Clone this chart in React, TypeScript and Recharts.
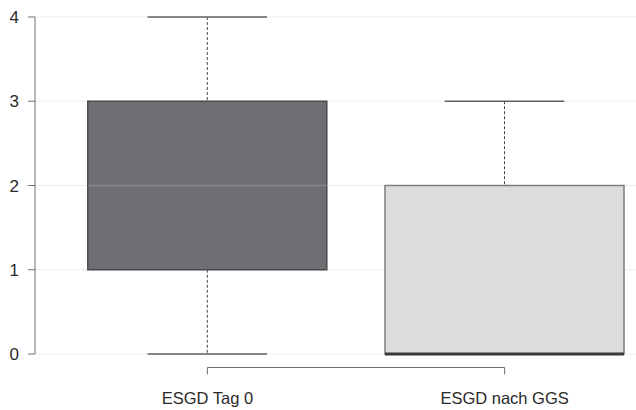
import { ComposedChart, Bar, XAxis, YAxis, CartesianGrid, ReferenceLine } from 'recharts';

// group labels and box statistics (ESGD score)
const CATEGORIES = ['ESGD Tag 0', 'ESGD nach GGS'];
const POSITIONS = [1, 2];
const MIN = [0, 0];
const Q1 = [1, 0];
const MEDIAN = [2, 0];
const Q3 = [3, 2];
const MAX = [4, 3];

const Y_TICKS = [0, 1, 2, 3, 4];
// R-style 4% padding around the data ranges
const X_DOMAIN: [number, number] = [0.42, 2.58];
const Y_DOMAIN: [number, number] = [-0.16, 4.16];

const BOX_FILL = ['#6e6f72', '#dcdcdd'];
const BOX_STROKE = ['#4a4a4c', '#7c7c7e'];
const MEDIAN_STROKE = ['#88888a', '#3a3a3c'];
const MEDIAN_WIDTH = [1.5, 3];
const AXIS_COLOR = '#707070';
const FONT = '"Liberation Sans", Arial, sans-serif';

const data = POSITIONS.map((pos, i) => ({
  pos,
  name: CATEGORIES[i],
  min: MIN[i],
  q1: Q1[i],
  median: MEDIAN[i],
  q3: Q3[i],
  max: MAX[i],
  idx: i,
}));

const BoxShape = (props: any) => {
  const { x, y, width, height, payload } = props;
  const top = Math.min(y, y + height);
  const bottom = Math.max(y, y + height);
  const { min, max, q1, q3, median, idx } = payload;
  // linear map between the bar's own ends (max at top, min at bottom)
  const py = (v: number) => top + ((max - v) / (max - min)) * (bottom - top);
  const cx = x + width / 2;
  const capHalf = width / 4;
  return (
    <g>
      <line x1={cx} x2={cx} y1={py(max)} y2={py(q3)} stroke="#444" strokeDasharray="3 2" />
      <line x1={cx} x2={cx} y1={py(q1)} y2={py(min)} stroke="#444" strokeDasharray="3 2" />
      <line x1={cx - capHalf} x2={cx + capHalf} y1={py(max)} y2={py(max)} stroke="#606060" strokeWidth={1.5} />
      <line x1={cx - capHalf} x2={cx + capHalf} y1={py(min)} y2={py(min)} stroke="#606060" strokeWidth={1.5} />
      <rect
        x={x}
        y={py(q3)}
        width={width}
        height={py(q1) - py(q3)}
        fill={BOX_FILL[idx]}
        stroke={BOX_STROKE[idx]}
        strokeWidth={1.5}
      />
      <line
        x1={x}
        x2={x + width}
        y1={py(median)}
        y2={py(median)}
        stroke={MEDIAN_STROKE[idx]}
        strokeWidth={MEDIAN_WIDTH[idx]}
      />
    </g>
  );
};

const XTick = (props: any) => {
  const { x, y, payload } = props;
  const i = POSITIONS.indexOf(payload.value);
  return (
    <text x={x} y={y} dy="0.71em" textAnchor="middle" fill="#2a2a2a" fontSize={16.5} fontFamily={FONT}>
      {CATEGORIES[i]}
    </text>
  );
};

export default function App() {
  return (
    <div style={{ position: 'fixed', left: 0, top: 0, width: 636, height: 410, overflow: 'hidden', background: '#fff' }}>
      <ComposedChart width={677} height={410} data={data} margin={{ top: 3.5, right: 0, bottom: 0, left: 0 }}>
        <CartesianGrid vertical={false} syncWithTicks stroke="#ececec" />
        <XAxis
          dataKey="pos"
          type="number"
          domain={X_DOMAIN}
          ticks={POSITIONS}
          allowDataOverflow
          axisLine={false}
          tickLine={{ stroke: AXIS_COLOR }}
          tickSize={7}
          tickMargin={18}
          height={42.5}
          tick={<XTick />}
        />
        <YAxis
          type="number"
          domain={Y_DOMAIN}
          ticks={Y_TICKS}
          allowDataOverflow
          width={35}
          axisLine={false}
          tickLine={{ stroke: AXIS_COLOR }}
          tickSize={7}
          tickMargin={9}
          tick={{ fill: '#2a2a2a', fontSize: 17, fontFamily: FONT }}
        />
        <ReferenceLine
          segment={[
            { x: X_DOMAIN[0], y: Y_TICKS[0] },
            { x: X_DOMAIN[0], y: Y_TICKS[Y_TICKS.length - 1] },
          ]}
          stroke={AXIS_COLOR}
          ifOverflow="visible"
        />
        <ReferenceLine
          segment={[
            { x: POSITIONS[0], y: Y_DOMAIN[0] },
            { x: POSITIONS[POSITIONS.length - 1], y: Y_DOMAIN[0] },
          ]}
          stroke={AXIS_COLOR}
          ifOverflow="visible"
        />
        <Bar
          dataKey={(d: any) => [d.min, d.max]}
          barSize={239}
          shape={<BoxShape />}
          isAnimationActive={false}
        />
      </ComposedChart>
    </div>
  );
}
